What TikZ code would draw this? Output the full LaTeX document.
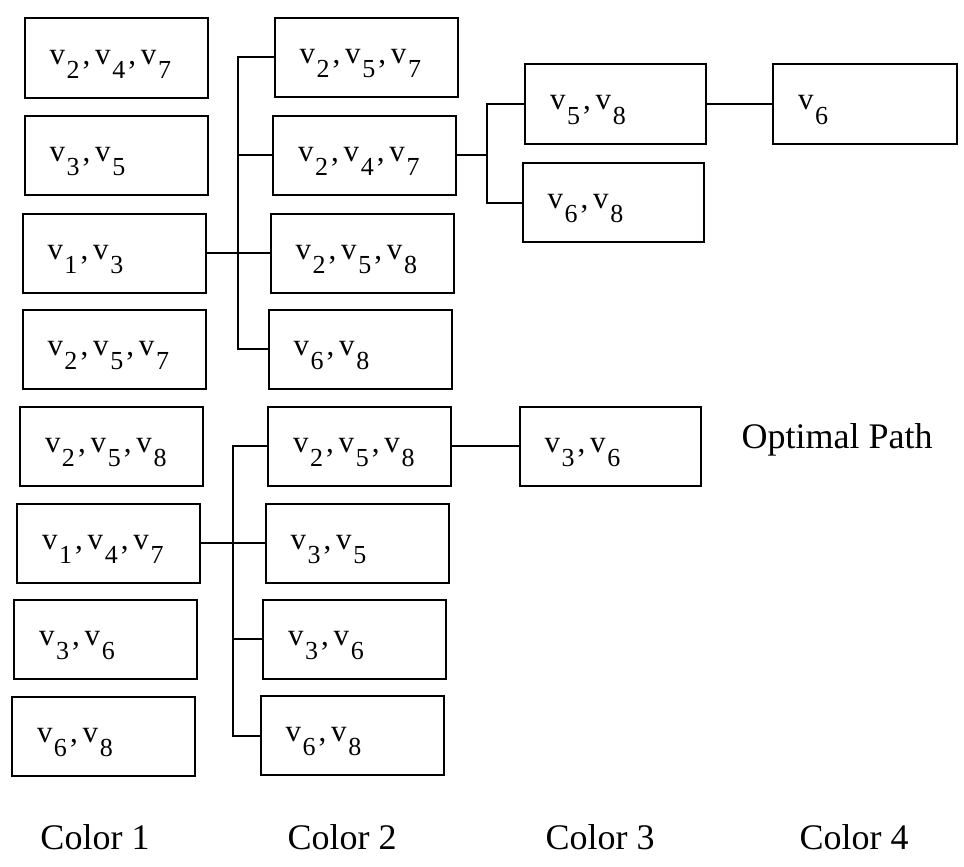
\documentclass[tikz,border=0pt]{standalone}
\usepackage{fontspec}
\setmainfont{Liberation Serif}
\newcommand\vsub[1]{v\kern1.5pt\raisebox{-14pt}{\fontsize{26}{26}\selectfont #1}}
\newcommand\sep{\kern3pt,\kern5pt}
\begin{document}
\begin{tikzpicture}[x=1pt,y=-1pt,
  box/.style={draw,line width=2pt,minimum width=183pt,minimum height=79pt,
    text width=133pt,inner xsep=25pt,inner ysep=0pt,align=left,
    text height=22pt,text depth=10pt,
    font=\fontsize{31}{31}\selectfont},
  wire/.style={line width=2pt},
  lbl/.style={font=\fontsize{36}{36}\selectfont,inner sep=0pt}]
\useasboundingbox (0,0) rectangle (964,867);
% column 1
\node[box] (a1) at (116,58)    {\vsub{2}\sep\vsub{4}\sep\vsub{7}};
\node[box] (a2) at (116,155.5) {\vsub{3}\sep\vsub{5}};
\node[box] (a3) at (114,253)   {\vsub{1}\sep\vsub{3}};
\node[box] (a4) at (114,349.5) {\vsub{2}\sep\vsub{5}\sep\vsub{7}};
\node[box] (a5) at (111.5,446) {\vsub{2}\sep\vsub{5}\sep\vsub{8}};
\node[box] (a6) at (108.5,543) {\vsub{1}\sep\vsub{4}\sep\vsub{7}};
\node[box] (a7) at (105.5,639) {\vsub{3}\sep\vsub{6}};
\node[box] (a8) at (103.5,736) {\vsub{6}\sep\vsub{8}};
% column 2
\node[box] (b1) at (366,57.5)  {\vsub{2}\sep\vsub{5}\sep\vsub{7}};
\node[box] (b2) at (364.5,155) {\vsub{2}\sep\vsub{4}\sep\vsub{7}};
\node[box] (b3) at (362,253)   {\vsub{2}\sep\vsub{5}\sep\vsub{8}};
\node[box] (b4) at (360,349)   {\vsub{6}\sep\vsub{8}};
\node[box] (b5) at (359.5,446) {\vsub{2}\sep\vsub{5}\sep\vsub{8}};
\node[box] (b6) at (357,543)   {\vsub{3}\sep\vsub{5}};
\node[box] (b7) at (354.5,639) {\vsub{3}\sep\vsub{6}};
\node[box] (b8) at (352,735.5) {\vsub{6}\sep\vsub{8}};
% column 3
\node[box,minimum width=181pt,text width=131pt] (c1) at (615.5,104) {\vsub{5}\sep\vsub{8}};
\node[box,minimum width=181pt,text width=131pt] (c2) at (613,202.5) {\vsub{6}\sep\vsub{8}};
\node[box,minimum width=181pt,text width=131pt] (c3) at (610,446)   {\vsub{3}\sep\vsub{6}};
% column 4
\node[box,minimum width=184pt,text width=134pt] (d1) at (865,104) {\vsub{6}};
% bus coordinates
\coordinate (busA) at (238,0);
\coordinate (busB) at (233,0);
\coordinate (busC) at (487,0);
% connectors, top group
\draw[wire] (a3.east) -- (b3.west);
\draw[wire] (b1.west) -- (b1.west -| busA) -- (b4.west -| busA) -- (b4.west);
\draw[wire] (b2.west) -- (b2.west -| busA);
% connectors, bottom group
\draw[wire] (a6.east) -- (b6.west);
\draw[wire] (b5.west) -- (b5.west -| busB) -- (b8.west -| busB) -- (b8.west);
\draw[wire] (b7.west) -- (b7.west -| busB);
% column 3 group
\draw[wire] (b2.east) -- (b2.east -| busC);
\draw[wire] (c1.west) -- (c1.west -| busC) -- (c2.west -| busC) -- (c2.west);
\draw[wire] (c1.east) -- (d1.west);
\draw[wire] (b5.east) -- (c3.west);
% labels
\node[lbl] (opt) at (837,440) {Optimal Path};
\node[lbl] (col1) at (95,837)  {Color 1};
\node[lbl] (col2) at (342,837) {Color 2};
\node[lbl] (col3) at (600,837) {Color 3};
\node[lbl] (col4) at (854,837) {Color 4};
\end{tikzpicture}
\end{document}
